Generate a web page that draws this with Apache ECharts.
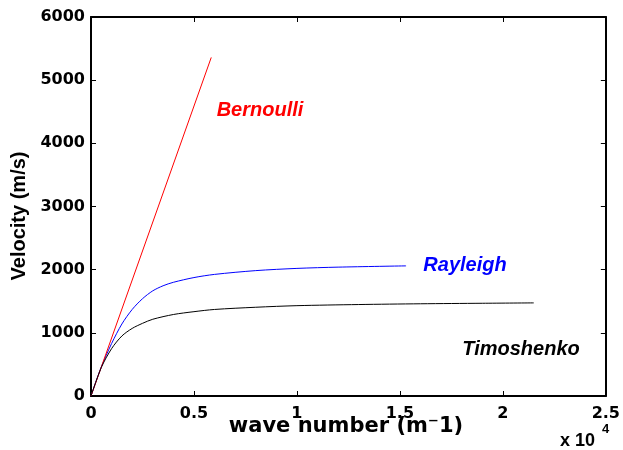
<!DOCTYPE html>
<html>
<head>
<meta charset="utf-8">
<script src="https://cdn.jsdelivr.net/npm/echarts@6/dist/echarts.min.js"></script>
<style>
html,body{margin:0;padding:0;background:#fff;}
#chart{width:623px;height:450px;}
</style>
</head>
<body>
<div id="chart"></div>
<script>
// wave number values (m^-1)
var bernoulliK = [0, 5840];
var bernoulliV = [0, 5360];

var rayleighK = [0, 500, 1000, 1500, 2000, 2500, 3000, 3500, 4000, 5000, 6000, 8000, 10000, 12000, 15300];
var rayleighV = [0, 460, 830, 1140, 1370, 1540, 1665, 1745, 1800, 1875, 1925, 1985, 2020, 2040, 2060];

var timoshenkoK = [0, 500, 1000, 1500, 2000, 2500, 3000, 4000, 5000, 6000, 8000, 10000, 13000, 16000, 19000, 21500];
var timoshenkoV = [0, 450, 750, 950, 1070, 1150, 1215, 1290, 1335, 1370, 1405, 1430, 1448, 1460, 1468, 1474];

var xTickLabels = ['0', '0.5', '1', '1.5', '2', '2.5'];
var yTickLabels = ['0', '1000', '2000', '3000', '4000', '5000', '6000'];

function pairs(k, v) { return k.map(function (x, i) { return [x, v[i]]; }); }

var chart = echarts.init(document.getElementById('chart'), null, {renderer: 'canvas'});
var tickFont = {fontFamily: 'DejaVu Sans', fontWeight: 'bold', fontSize: 16, color: '#000'};
var axisLine = {show: true, onZero: false, lineStyle: {color: '#000', width: 2}};
var axisTick = {show: true, inside: true, length: 5, lineStyle: {color: '#000', width: 1}};

chart.setOption({
  animation: false,
  backgroundColor: '#fff',
  grid: {left: 91, right: 14, top: 17, bottom: 54, containLabel: false},
  xAxis: [{
    type: 'value', min: 0, max: 25000, interval: 5000, position: 'bottom',
    axisLine: axisLine, axisTick: axisTick, splitLine: {show: false},
    axisLabel: Object.assign({margin: 10, formatter: function (v) { return xTickLabels[Math.round(v / 5000)]; }}, tickFont)
  }, {
    type: 'value', min: 0, max: 25000, interval: 5000, position: 'top',
    axisLine: axisLine, axisTick: axisTick, splitLine: {show: false}, axisLabel: {show: false}
  }],
  yAxis: [{
    type: 'value', min: 0, max: 6000, interval: 1000, position: 'left',
    axisLine: axisLine, axisTick: axisTick, splitLine: {show: false},
    axisLabel: Object.assign({margin: 6, formatter: function (v) { return yTickLabels[Math.round(v / 1000)]; }}, tickFont)
  }, {
    type: 'value', min: 0, max: 6000, interval: 1000, position: 'right',
    axisLine: axisLine, axisTick: axisTick, splitLine: {show: false}, axisLabel: {show: false}
  }],
  series: [{
    name: 'Bernoulli', type: 'line', showSymbol: false, data: pairs(bernoulliK, bernoulliV),
    lineStyle: {color: '#ff0000', width: 1}, z: 3
  }, {
    name: 'Rayleigh', type: 'line', showSymbol: false, smooth: 0.3, data: pairs(rayleighK, rayleighV),
    lineStyle: {color: '#0000ff', width: 1}, z: 2
  }, {
    name: 'Timoshenko', type: 'line', showSymbol: false, smooth: 0.3, data: pairs(timoshenkoK, timoshenkoV),
    lineStyle: {color: '#000000', width: 1}, z: 4
  }],
  graphic: [
    {type: 'text', x: 260, y: 110, style: {text: 'Bernoulli', fill: '#ff0000', font: 'italic bold 20px "Liberation Sans"', align: 'center', verticalAlign: 'middle'}},
    {type: 'text', x: 465, y: 265, style: {text: 'Rayleigh', fill: '#0000ff', font: 'italic bold 20px "Liberation Sans"', align: 'center', verticalAlign: 'middle'}},
    {type: 'text', x: 521, y: 349, style: {text: 'Timoshenko', fill: '#000', font: 'italic bold 20px "Liberation Sans"', align: 'center', verticalAlign: 'middle'}},
    {type: 'text', x: 346, y: 427, style: {text: 'wave number (m\u207B1)', fill: '#000', font: 'bold 21px "DejaVu Sans"', align: 'center', verticalAlign: 'middle'}},
    {type: 'text', x: 19, y: 216, rotation: Math.PI / 2, style: {text: 'Velocity (m/s)', fill: '#000', font: 'bold 20px "Liberation Sans"', align: 'center', verticalAlign: 'middle'}},
    {type: 'text', x: 560, y: 441, style: {text: 'x 10', fill: '#000', font: 'bold 18px "Liberation Sans"', align: 'left', verticalAlign: 'middle'}},
    {type: 'text', x: 602, y: 429, style: {text: '4', fill: '#000', font: 'bold 13px "Liberation Sans"', align: 'left', verticalAlign: 'middle'}}
  ]
});
</script>
</body>
</html>
